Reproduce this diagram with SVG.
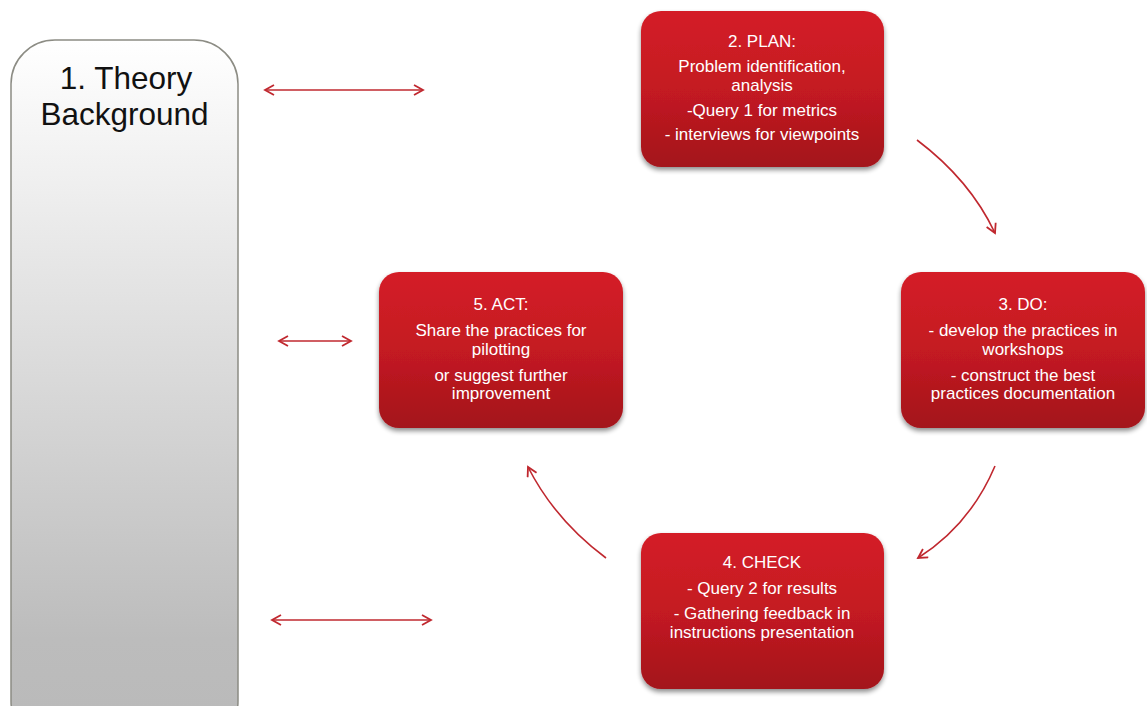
<svg xmlns="http://www.w3.org/2000/svg" width="1147" height="706" viewBox="0 0 1147 706">
  <defs>
    <linearGradient id="gTheory" x1="0" y1="0" x2="0" y2="1">
      <stop offset="0" stop-color="#ffffff"/>
      <stop offset="0.85" stop-color="#bcbcbc"/>
      <stop offset="1" stop-color="#b9b9b9"/>
    </linearGradient>
    <linearGradient id="gRed" x1="0" y1="0" x2="0" y2="1">
      <stop offset="0" stop-color="#d41f27"/>
      <stop offset="0.5" stop-color="#c41a22"/>
      <stop offset="1" stop-color="#a3141b"/>
    </linearGradient>
    <filter id="shadow" x="-10%" y="-10%" width="120%" height="130%">
      <feGaussianBlur in="SourceAlpha" stdDeviation="2.5"/>
      <feOffset dx="0" dy="3" result="b"/>
      <feComponentTransfer><feFuncA type="linear" slope="0.45"/></feComponentTransfer>
      <feMerge><feMergeNode/><feMergeNode in="SourceGraphic"/></feMerge>
    </filter>
    <marker id="head" viewBox="0 0 12 12" refX="10" refY="6" markerWidth="12" markerHeight="12" markerUnits="userSpaceOnUse" orient="auto-start-reverse">
      <path d="M1,1 L10,6 L1,11" fill="none" stroke="#c0282f" stroke-width="1.8"/>
    </marker>
    <style>
      .box { fill: url(#gRed); filter: url(#shadow); }
      .lbl { font-family: "Liberation Sans", Arial, sans-serif; font-size: 17px; fill: #ffffff; text-anchor: middle; }
      .big { font-family: "Liberation Sans", Arial, sans-serif; font-size: 31.5px; fill: #111111; text-anchor: middle; }
      .conn { fill: none; stroke: #c0282f; stroke-width: 1.6; marker-end: url(#head); }
      .both { marker-start: url(#head); }
    </style>
  </defs>

  <rect width="1147" height="706" fill="#ffffff"/>

  <!-- theory column -->
  <g id="theory">
    <rect x="11" y="40" width="227" height="705" rx="44" ry="44" fill="url(#gTheory)" stroke="#8c8c84" stroke-width="1.5"/>
    <text class="big" x="126" y="89">1. Theory</text>
    <text class="big" x="124.5" y="125">Background</text>
  </g>

  <!-- PDCA steps -->
  <g id="plan">
    <rect class="box" x="641" y="11" width="243" height="156" rx="20" ry="20"/>
    <text class="lbl" x="762" y="47">2. PLAN:</text>
    <text class="lbl" x="762" y="72">Problem identification,</text>
    <text class="lbl" x="762" y="91">analysis</text>
    <text class="lbl" x="762" y="116">-Query 1 for metrics</text>
    <text class="lbl" x="762" y="140">- interviews  for viewpoints</text>
  </g>

  <g id="do">
    <rect class="box" x="901" y="272" width="244" height="156" rx="20" ry="20"/>
    <text class="lbl" x="1023" y="310">3. DO:</text>
    <text class="lbl" x="1023" y="336">- develop the practices in</text>
    <text class="lbl" x="1023" y="355">workshops</text>
    <text class="lbl" x="1023" y="381">- construct the best</text>
    <text class="lbl" x="1023" y="399">practices documentation</text>
  </g>

  <g id="check">
    <rect class="box" x="641" y="533" width="243" height="156" rx="20" ry="20"/>
    <text class="lbl" x="762" y="568">4. CHECK</text>
    <text class="lbl" x="762" y="594">- Query 2 for results</text>
    <text class="lbl" x="762" y="619">- Gathering  feedback in</text>
    <text class="lbl" x="762" y="638">instructions  presentation</text>
  </g>

  <g id="act">
    <rect class="box" x="379" y="272" width="244" height="156" rx="20" ry="20"/>
    <text class="lbl" x="501" y="310">5. ACT:</text>
    <text class="lbl" x="501" y="336">Share the practices for</text>
    <text class="lbl" x="501" y="355">pilotting</text>
    <text class="lbl" x="501" y="381">or suggest further</text>
    <text class="lbl" x="501" y="399">improvement</text>
  </g>

  <!-- connectors -->
  <g id="connectors">
    <path class="conn both" d="M265,90 L423,90"/>
    <path class="conn both" d="M279,341 L351,341"/>
    <path class="conn both" d="M272,620 L431,620"/>
    <path class="conn" d="M917,140 Q970,180 995,233"/>
    <path class="conn" d="M995,466 Q970,525 918,558"/>
    <path class="conn" d="M606,558 Q555,520 528,467"/>
  </g>
</svg>
